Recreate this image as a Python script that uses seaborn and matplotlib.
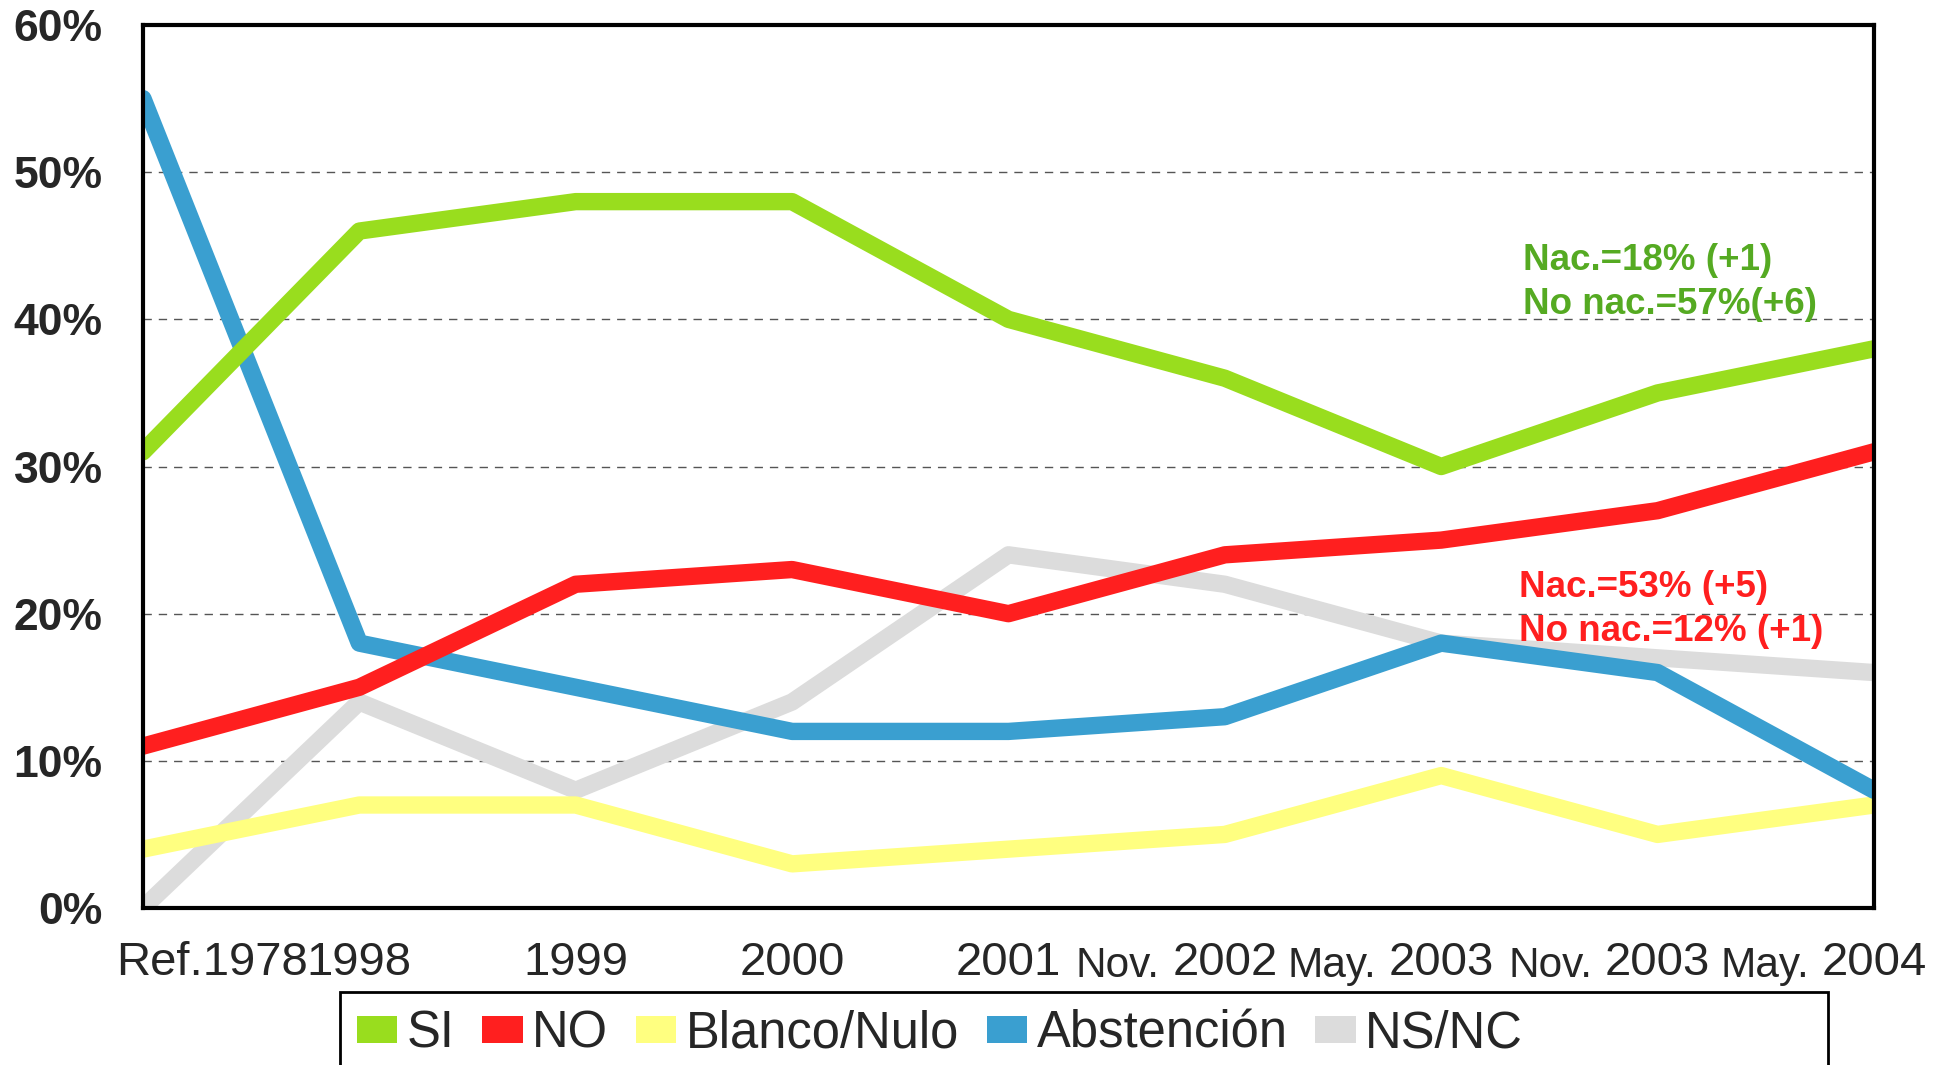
import pandas as pd
import matplotlib
matplotlib.use('Agg')
import matplotlib.pyplot as plt
import matplotlib.transforms as mtransforms
from matplotlib.patches import Patch, Rectangle
import seaborn as sns

sns.set_theme(style='white')
plt.rcParams['font.family'] = 'sans-serif'
plt.rcParams['font.sans-serif'] = ['Liberation Sans', 'DejaVu Sans']

# Data (percent)
periods = ['Ref.1978', '1998', '1999', '2000', '2001', 'Nov. 2002', 'May. 2003', 'Nov. 2003', 'May. 2004']
si = [31, 46, 48, 48, 40, 36, 30, 35, 38]
no = [11, 15, 22, 23, 20, 24, 25, 27, 31]
blanco = [4, 7, 7, 3, 4, 5, 9, 5, 7]
abstencion = [55, 18, 15, 12, 12, 13, 18, 16, 8]
nsnc = [0, 14, 8, 14, 24, 22, 18, 17, 16]

series = ['SI', 'NO', 'Blanco/Nulo', 'Abstención', 'NS/NC']
colors = ['#99DD1E', '#FF1F1F', '#FFFF80', '#3A9FD0', '#DCDCDC']
draw_order = ['NS/NC', 'Blanco/Nulo', 'Abstención', 'NO', 'SI']

notes_si = ['Nac.=18% (+1)', 'No nac.=57%(+6)']
notes_no = ['Nac.=53% (+5)', 'No nac.=12% (+1)']

# Long dataframe for seaborn
values = dict(zip(series, [si, no, blanco, abstencion, nsnc]))
rows = []
for s in series:
    for i, v in enumerate(values[s]):
        rows.append({'pos': i, 'value': v, 'serie': s})
df = pd.DataFrame(rows)

fig = plt.figure(figsize=(19.5, 10.65), dpi=100)
ax = fig.add_axes([0.0733, 0.1474, 0.8877, 0.8291])

palette = dict(zip(series, colors))
for s in draw_order:
    sns.lineplot(data=df[df['serie'] == s], x='pos', y='value', color=palette[s],
                 linewidth=12.5, sort=False, ax=ax, legend=False)

ax.set_xlim(0, len(periods) - 1)
ax.set_ylim(0, 60)
ax.set_xlabel('')
ax.set_ylabel('')

# Y axis
ax.set_yticks(range(0, 61, 10))
ax.set_yticklabels([f'{v}%' for v in range(0, 61, 10)], fontsize=32, fontweight='bold')
ax.tick_params(axis='y', length=0, pad=29)
for v in range(10, 60, 10):
    ax.axhline(v, color='#555555', linestyle=(0, (6, 5)), linewidth=1.0, zorder=0)

# X axis: year part centred on the point, month prefix smaller to the left
years = [p.split(' ')[-1] for p in periods]
ax.set_xticks(range(len(periods)))
ax.set_xticklabels(years, fontsize=34)
ax.tick_params(axis='x', length=0, pad=24)
ref_lab = ax.get_xticklabels()[0]
ref_lab.set_transform(ref_lab.get_transform() +
                      mtransforms.ScaledTranslation(0.69, 0, fig.dpi_scale_trans))
trans = mtransforms.blended_transform_factory(ax.transData, ax.transAxes)
for i, p in enumerate(periods):
    if ' ' in p:
        ax.text(i - 0.3, -0.043, p.split(' ')[0], transform=trans, fontsize=30.5,
                ha='right', va='top')

for side in ['left', 'right', 'top', 'bottom']:
    ax.spines[side].set_visible(True)
    ax.spines[side].set_color('black')
    ax.spines[side].set_linewidth(3)

# Annotations
ax.text(6.38, 44, notes_si[0], color='#55AA22', fontsize=26.5, fontweight='bold', va='center')
ax.text(6.38, 41, notes_si[1], color='#55AA22', fontsize=26.5, fontweight='bold', va='center')
ax.text(6.36, 21.8, notes_no[0], color='#FF1F1F', fontsize=26.5, fontweight='bold', va='center')
ax.text(6.36, 18.8, notes_no[1], color='#FF1F1F', fontsize=26.5, fontweight='bold', va='center')

# Legend with a box that runs off the bottom of the figure
fig.patches.append(Rectangle((0.1744, -0.05), 0.763, 0.1185, transform=fig.transFigure,
                             facecolor='white', edgecolor='black', linewidth=2, zorder=0))
handles = [Patch(facecolor=palette[s], edgecolor='none') for s in series]
fig.legend(handles, series, loc='center left', bbox_to_anchor=(0.183, 0.029),
           ncol=5, frameon=False, fontsize=36.5, handlelength=0.8, handleheight=0.45,
           handletextpad=0.18, columnspacing=0.55, borderaxespad=0, borderpad=0)

fig.savefig('out.png', dpi=100)
